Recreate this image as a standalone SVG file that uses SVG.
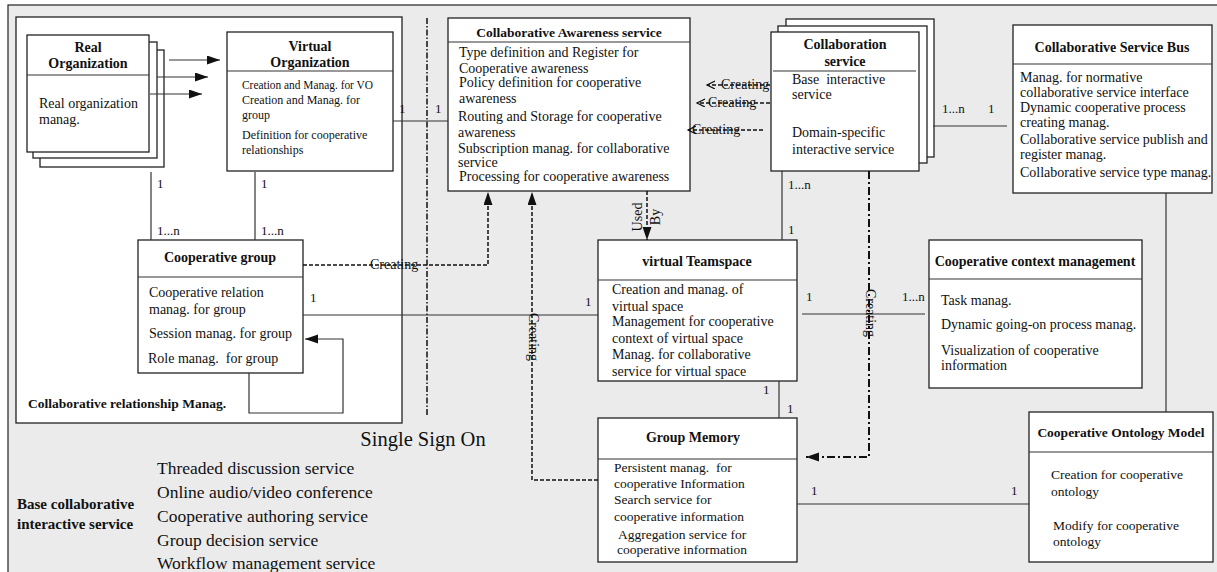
<svg xmlns="http://www.w3.org/2000/svg" width="1217" height="572" viewBox="0 0 1217 572">
  <defs>
    <style>
      text { font-family: "Liberation Serif", "Times New Roman", serif; fill: #111; }
      .box { fill: #fff; stroke: #222; stroke-width: 1.3; }
      .div { stroke: #333; stroke-width: 1.2; }
      .ln { stroke: #333; stroke-width: 1.2; fill: none; }
      .dash { stroke: #111; stroke-width: 1.5; stroke-dasharray: 4 2; fill: none; }
      .dd { stroke: #111; stroke-width: 2; stroke-dasharray: 8 3 2 3; fill: none; }
      .sso { stroke: #111; stroke-width: 1.5; stroke-dasharray: 6 2 1.5 2; fill: none; }
      .tt { font-weight: bold; font-size: 14px; text-anchor: middle; }
      .b { font-size: 14px; }
      .s { font-size: 12px; }
      .m { font-size: 13px; }
      .cr { font-size: 14px; }
      .big { font-size: 20.5px; text-anchor: middle; }
      .list { font-size: 17.5px; }
      .lab { font-weight: bold; font-size: 13.5px; }
    </style>
    <marker id="fill" markerUnits="userSpaceOnUse" markerWidth="14" markerHeight="10" refX="13" refY="4.5" orient="auto">
      <path d="M0,0 L13,4.5 L0,9 z" fill="#111"/>
    </marker>
    <marker id="open" markerUnits="userSpaceOnUse" markerWidth="10" markerHeight="10" refX="8" refY="4" orient="auto">
      <path d="M0,0 L8,4 L0,8" fill="none" stroke="#111" stroke-width="1.2"/>
    </marker>
  </defs>

  <!-- page frame -->
  <rect x="8" y="5" width="1220" height="580" fill="#ebebeb" stroke="#222" stroke-width="1.2"/>

  <!-- relationship management area -->
  <g id="relationship-area">
    <rect x="16" y="17" width="386" height="406" class="box"/>
    <text x="28" y="408" class="lab">Collaborative relationship Manag.</text>
  </g>

  <!-- single sign on divider -->
  <line x1="427" y1="18" x2="427" y2="415" class="sso"/>

  <g id="real-organization">
    <rect x="40" y="50" width="124" height="117" class="box"/>
    <rect x="33" y="42" width="124" height="116" class="box"/>
    <rect x="27" y="35" width="122" height="117" class="box"/>
    <line x1="27" y1="75" x2="149" y2="75" class="div"/>
    <text x="88" y="52" class="tt">Real</text>
    <text x="88" y="68" class="tt">Organization</text>
    <text x="39" y="108" class="b">Real organization</text>
    <text x="39" y="124" class="b">manag.</text>
  </g>

  <g id="virtual-organization">
    <rect x="227" y="32" width="166" height="139" class="box"/>
    <line x1="227" y1="71" x2="393" y2="71" class="div"/>
    <text x="310" y="51" class="tt">Virtual</text>
    <text x="310" y="67" class="tt">Organization</text>
    <text x="242" y="89" class="s" textLength="131" lengthAdjust="spacingAndGlyphs">Creation and Manag. for VO</text>
    <text x="242" y="104" class="s">Creation and Manag. for</text>
    <text x="242" y="119" class="s">group</text>
    <text x="242" y="139" class="s">Definition for cooperative</text>
    <text x="242" y="154" class="s">relationships</text>
  </g>

  <g id="awareness-service">
    <rect x="448" y="18" width="242" height="173" class="box"/>
    <line x1="448" y1="42" x2="690" y2="42" class="div"/>
    <text x="569" y="37" class="tt" style="font-size:13.5px">Collaborative Awareness service</text>
    <text x="459" y="57" class="b">Type definition and Register for</text>
    <text x="459" y="73" class="b">Cooperative awareness</text>
    <text x="459" y="87" class="b">Policy definition for cooperative</text>
    <text x="459" y="103" class="b">awareness</text>
    <text x="458" y="121" class="b">Routing and Storage for cooperative</text>
    <text x="458" y="137" class="b">awareness</text>
    <text x="458" y="153" class="b">Subscription manag. for collaborative</text>
    <text x="458" y="167" class="b">service</text>
    <text x="459" y="181" class="b">Processing for cooperative awareness</text>
  </g>

  <g id="collaboration-service">
    <rect x="786" y="19" width="148" height="138" class="box"/>
    <rect x="778" y="26" width="149" height="137" class="box"/>
    <rect x="771" y="32" width="148" height="139" class="box"/>
    <line x1="773" y1="71" x2="916" y2="71" class="div"/>
    <text x="845" y="49" class="tt">Collaboration</text>
    <text x="845" y="66" class="tt">service</text>
    <text x="792" y="84" class="b" xml:space="preserve">Base  interactive</text>
    <text x="792" y="99" class="b">service</text>
    <text x="792" y="137" class="b">Domain-specific</text>
    <text x="792" y="154" class="b">interactive service</text>
  </g>

  <g id="service-bus">
    <rect x="1013" y="25" width="199" height="168" class="box"/>
    <line x1="1013" y1="64" x2="1212" y2="64" class="div"/>
    <text x="1112" y="52" class="tt">Collaborative Service Bus</text>
    <text x="1020" y="82" class="b">Manag. for normative</text>
    <text x="1020" y="97" class="b">collaborative service interface</text>
    <text x="1020" y="112" class="b">Dynamic cooperative process</text>
    <text x="1020" y="127" class="b">creating manag.</text>
    <text x="1020" y="144" class="b">Collaborative service publish and</text>
    <text x="1020" y="159" class="b">register manag.</text>
    <text x="1020" y="177" class="b">Collaborative service type manag.</text>
  </g>

  <g id="cooperative-group">
    <rect x="138" y="240" width="165" height="133" class="box"/>
    <line x1="138" y1="277" x2="303" y2="277" class="div"/>
    <text x="220" y="262" class="tt">Cooperative group</text>
    <text x="149" y="297" class="b">Cooperative relation</text>
    <text x="149" y="314" class="b">manag. for group</text>
    <text x="149" y="338" class="b">Session manag. for group</text>
    <text x="148" y="363" class="b" xml:space="preserve">Role manag.  for group</text>
  </g>

  <g id="virtual-teamspace">
    <rect x="598" y="240" width="199" height="141" class="box"/>
    <line x1="598" y1="280" x2="797" y2="280" class="div"/>
    <text x="697" y="266" class="tt">virtual Teamspace</text>
    <text x="612" y="294" class="b">Creation and manag. of</text>
    <text x="612" y="311" class="b">virtual space</text>
    <text x="612" y="326" class="b">Management for cooperative</text>
    <text x="612" y="343" class="b">context of virtual space</text>
    <text x="612" y="359" class="b">Manag. for collaborative</text>
    <text x="612" y="376" class="b">service for virtual space</text>
  </g>

  <g id="context-management">
    <rect x="929" y="240" width="213" height="148" class="box"/>
    <line x1="929" y1="279" x2="1142" y2="279" class="div"/>
    <text x="1035" y="266" class="tt">Cooperative context management</text>
    <text x="941" y="305" class="b">Task manag.</text>
    <text x="941" y="329" class="b">Dynamic going-on process manag.</text>
    <text x="941" y="355" class="b">Visualization of cooperative</text>
    <text x="941" y="370" class="b">information</text>
  </g>

  <g id="group-memory">
    <rect x="598" y="418" width="199" height="144" class="box"/>
    <line x1="598" y1="459" x2="797" y2="459" class="div"/>
    <text x="693" y="442" class="tt">Group Memory</text>
    <text x="614" y="472" class="b" xml:space="preserve" style="font-size:13.5px">Persistent manag.  for</text>
    <text x="614" y="488" class="b" style="font-size:13.5px">cooperative Information</text>
    <text x="614" y="504" class="b" style="font-size:13.5px">Search service for</text>
    <text x="614" y="521" class="b" style="font-size:13.5px">cooperative information</text>
    <text x="618" y="539" class="b" style="font-size:13.5px">Aggregation service for</text>
    <text x="617" y="554" class="b" style="font-size:13.5px">cooperative information</text>
  </g>

  <g id="ontology-model">
    <rect x="1029" y="412" width="184" height="150" class="box"/>
    <line x1="1029" y1="452" x2="1213" y2="452" class="div"/>
    <text x="1121" y="437" class="tt" style="font-size:13.5px">Cooperative Ontology Model</text>
    <text x="1051" y="479" class="b" style="font-size:13.5px">Creation for cooperative</text>
    <text x="1051" y="496" class="b" style="font-size:13.5px">ontology</text>
    <text x="1053" y="530" class="b" style="font-size:13.5px">Modify for cooperative</text>
    <text x="1053" y="546" class="b" style="font-size:13.5px">ontology</text>
  </g>

  <g id="connectors">
    <!-- real organization to virtual organization -->
    <line x1="169" y1="60" x2="220" y2="60" class="ln" marker-end="url(#fill)"/>
    <line x1="157" y1="77" x2="208" y2="77" class="ln" marker-end="url(#fill)"/>
    <line x1="150" y1="94" x2="202" y2="94" class="ln" marker-end="url(#fill)"/>

    <!-- associations -->
    <line x1="151" y1="172" x2="151" y2="240" class="ln"/>
    <line x1="255" y1="172" x2="255" y2="240" class="ln"/>
    <line x1="393" y1="121" x2="448" y2="121" class="ln"/>
    <line x1="303" y1="315" x2="598" y2="315" class="ln"/>
    <line x1="933" y1="126" x2="1007" y2="126" class="ln"/>
    <line x1="782" y1="171" x2="782" y2="240" class="ln"/>
    <line x1="779" y1="381" x2="779" y2="418" class="ln"/>
    <line x1="802" y1="314" x2="925" y2="314" class="ln"/>
    <line x1="1166" y1="193" x2="1166" y2="412" class="ln"/>
    <line x1="797" y1="504" x2="1029" y2="504" class="ln"/>

    <!-- group self loop -->
    <polyline points="249,373 249,413 343,413 343,339 305,339" class="ln" marker-end="url(#fill)"/>

    <!-- creating / used-by dependencies -->
    <polyline points="303,265 488,265 488,192" class="dash" marker-end="url(#fill)"/>
    <polyline points="598,480 532,480 532,192" class="dash" marker-end="url(#fill)"/>
    <line x1="647" y1="191" x2="647" y2="240" class="dash" marker-end="url(#fill)"/>
    <polyline points="869,171 869,457 806,457" class="dd" marker-end="url(#fill)"/>

    <line x1="770" y1="85" x2="707" y2="85" class="dash" stroke-width="1.2" marker-end="url(#open)"/>
    <line x1="770" y1="103" x2="697" y2="103" class="dash" stroke-width="1.2" marker-end="url(#open)"/>
    <line x1="763" y1="130" x2="688" y2="130" class="dash" stroke-width="1.2" marker-end="url(#open)"/>

    <!-- connector labels -->
    <text x="370" y="269" class="cr">Creating</text>
    <text x="721" y="89" class="cr">Creating</text>
    <text x="708" y="107" class="cr">Creating</text>
    <text x="692" y="134" class="cr">Creating</text>
    <text transform="translate(532,337) rotate(90)" y="3" class="cr" text-anchor="middle">Creating</text>
    <text transform="translate(869,313) rotate(90)" y="3" class="cr" text-anchor="middle">Creating</text>
    <g transform="translate(642,217) rotate(-90)" class="cr" text-anchor="middle">
      <text x="0" y="0">Used</text>
      <text x="0" y="18">By</text>
    </g>

    <text x="157" y="188" class="m">1</text>
    <text x="157" y="235" class="m">1...n</text>
    <text x="261" y="188" class="m">1</text>
    <text x="261" y="235" class="m">1...n</text>
    <text x="399" y="113" class="m">1</text>
    <text x="435" y="113" class="m">1</text>
    <text x="310" y="302" class="m">1</text>
    <text x="585" y="306" class="m">1</text>
    <text x="942" y="113" class="m">1...n</text>
    <text x="988" y="113" class="m">1</text>
    <text x="788" y="189" class="m">1...n</text>
    <text x="788" y="234" class="m">1</text>
    <text x="763" y="394" class="m">1</text>
    <text x="787" y="413" class="m">1</text>
    <text x="806" y="301" class="m">1</text>
    <text x="902" y="301" class="m">1...n</text>
    <text x="811" y="495" class="m">1</text>
    <text x="1011" y="495" class="m">1</text>
  </g>

  <!-- single sign on and base services legend -->
  <g id="base-services">
    <text x="423" y="446" class="big">Single Sign On</text>
    <text x="17" y="509" class="lab" style="font-size:15px">Base collaborative</text>
    <text x="17" y="529" class="lab" style="font-size:15px">interactive service</text>
    <text x="157" y="474" class="list">Threaded discussion service</text>
    <text x="157" y="498" class="list">Online audio/video conference</text>
    <text x="157" y="522" class="list">Cooperative authoring service</text>
    <text x="157" y="546" class="list">Group decision service</text>
    <text x="157" y="569" class="list">Workflow management service</text>
  </g>
</svg>
